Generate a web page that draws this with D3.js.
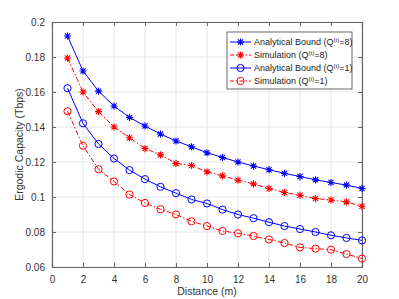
<!DOCTYPE html>
<html>
<head>
<meta charset="utf-8">
<script src="https://cdn.jsdelivr.net/npm/d3@7"></script>
<style>
  body { margin: 0; background: #fff; }
  text { font-family: "Liberation Sans", Arial, sans-serif; }
</style>
</head>
<body>
<svg id="chart" width="399" height="299"></svg>
<script>
const distance = d3.range(1, 21);
const analyticalQ8 = [0.192, 0.172, 0.1605, 0.152, 0.1455, 0.1406, 0.136, 0.132, 0.1287, 0.1253,
    0.1226, 0.120, 0.1177, 0.1156, 0.1135, 0.1117, 0.1098, 0.1083, 0.1068, 0.1049];
const simulationQ8 = [0.1794, 0.160, 0.1488, 0.140, 0.1339, 0.1277, 0.1241, 0.1192, 0.118, 0.1144,
    0.1121, 0.1096, 0.1075, 0.1049, 0.1026, 0.101, 0.0991, 0.0983, 0.0972, 0.0947];
const analyticalQ1 = [0.1622, 0.1421, 0.1303, 0.122, 0.1154, 0.1102, 0.1058, 0.1022, 0.0986, 0.0963,
    0.0928, 0.090, 0.0879, 0.0856, 0.0834, 0.0817, 0.080, 0.0781, 0.0766, 0.0752];
const simulationQ1 = [0.149, 0.1293, 0.1159, 0.1089, 0.1014, 0.0966, 0.093, 0.090, 0.0861, 0.0834,
    0.0806, 0.0793, 0.0777, 0.0757, 0.0737, 0.0712, 0.0705, 0.0699, 0.0674, 0.0648];
const xTicks = d3.range(0, 21, 2);
const yTicks = [0.06, 0.08, 0.1, 0.12, 0.14, 0.16, 0.18, 0.2];

const series = [
    { name: "Analytical Bound", q: "8", values: analyticalQ8, color: "#0000ff", dash: null, marker: "star" },
    { name: "Simulation", q: "8", values: simulationQ8, color: "#ff0000", dash: "5,2,1.5,2", marker: "star" },
    { name: "Analytical Bound", q: "1", values: analyticalQ1, color: "#0000ff", dash: null, marker: "circle" },
    { name: "Simulation", q: "1", values: simulationQ1, color: "#ff0000", dash: "5,2,1.5,2", marker: "circle" }
];

const svg = d3.select("#chart");
const margin = { left: 52, right: 37, top: 22, bottom: 32 };
const width = 399 - margin.left - margin.right;
const height = 299 - margin.top - margin.bottom;

const x = d3.scaleLinear().domain([0, 20]).range([0, width]);
const y = d3.scaleLinear().domain([0.06, 0.2]).range([height, 0]);

const g = svg.append("g").attr("transform", `translate(${margin.left},${margin.top})`);

// grid
g.append("g").selectAll("line").data(xTicks).join("line")
    .attr("x1", d => x(d)).attr("x2", d => x(d))
    .attr("y1", 0).attr("y2", height)
    .attr("stroke", "#e6e6e6").attr("stroke-width", 1);
g.append("g").selectAll("line").data(yTicks).join("line")
    .attr("x1", 0).attr("x2", width)
    .attr("y1", d => y(d)).attr("y2", d => y(d))
    .attr("stroke", "#e6e6e6").attr("stroke-width", 1);

// axes
const xAxis = g.append("g").attr("transform", `translate(0,${height})`)
    .call(d3.axisBottom(x).tickValues(xTicks).tickSize(-4).tickPadding(9).tickFormat(d3.format("d")));
const xTop = g.append("g")
    .call(d3.axisTop(x).tickValues(xTicks).tickSize(-4).tickFormat(""));
const yAxis = g.append("g")
    .call(d3.axisLeft(y).tickValues(yTicks).tickSize(-4).tickPadding(7).tickFormat(d => String(+d.toFixed(2))));
const yRight = g.append("g").attr("transform", `translate(${width},0)`)
    .call(d3.axisRight(y).tickValues(yTicks).tickSize(-4).tickFormat(""));

[xAxis, xTop, yAxis, yRight].forEach(a => {
    a.select(".domain").attr("stroke", "#666").attr("stroke-width", 1.2);
    a.selectAll(".tick line").attr("stroke", "#666");
    a.selectAll(".tick text").attr("fill", "#333").attr("font-size", 10)
        .attr("font-family", "'Liberation Sans', Arial, sans-serif");
});

// labels
svg.append("text")
    .attr("x", margin.left + width / 2).attr("y", 295)
    .attr("text-anchor", "middle").attr("font-size", 10.5).attr("fill", "#333")
    .text("Distance (m)");
svg.append("text")
    .attr("transform", `translate(23,${margin.top + height / 2}) rotate(-90)`)
    .attr("text-anchor", "middle").attr("font-size", 10.5).attr("fill", "#333")
    .text("Ergodic Capacity (Tbps)");

const line = d3.line().x((d, i) => x(distance[i])).y(d => y(d));

function drawMarker(sel, type, color) {
    if (type === "circle") {
        sel.append("circle").attr("r", 3.6).attr("fill", "none")
            .attr("stroke", color).attr("stroke-width", 1);
    } else {
        const r = 3.6;
        const d = r * 0.72;
        sel.append("path")
            .attr("d", `M${-r},0L${r},0M0,${-r}L0,${r}M${-d},${-d}L${d},${d}M${-d},${d}L${d},${-d}`)
            .attr("stroke", color).attr("stroke-width", 1.1).attr("fill", "none");
    }
}

series.forEach(s => {
    g.append("path").datum(s.values)
        .attr("d", line).attr("fill", "none")
        .attr("stroke", s.color).attr("stroke-width", 1)
        .attr("stroke-dasharray", s.dash);
    s.values.forEach((v, i) => {
        const m = g.append("g").attr("transform", `translate(${x(distance[i])},${y(v)})`);
        drawMarker(m, s.marker, s.color);
    });
});

// legend
const lg = svg.append("g").attr("transform", "translate(227,32)");
lg.append("rect").attr("width", 125).attr("height", 57)
    .attr("fill", "#fff").attr("stroke", "#444").attr("stroke-width", 0.8);
series.forEach((s, i) => {
    const yy = 10 + i * 13;
    lg.append("line").attr("x1", 3).attr("x2", 24).attr("y1", yy).attr("y2", yy)
        .attr("stroke", s.color).attr("stroke-width", 1).attr("stroke-dasharray", s.dash ? "4,2,1.5,2" : null);
    drawMarker(lg.append("g").attr("transform", `translate(13.5,${yy})`), s.marker, s.color);
    const t = lg.append("text").attr("x", 27).attr("y", yy + 3.3)
        .attr("font-size", 9).attr("fill", "#222");
    t.append("tspan").text(`${s.name} (Q`);
    t.append("tspan").attr("font-size", 6).attr("dy", -3.8).text("(t)");
    t.append("tspan").attr("dy", 3.8).text(`=${s.q})`);
});
</script>
</body>
</html>
